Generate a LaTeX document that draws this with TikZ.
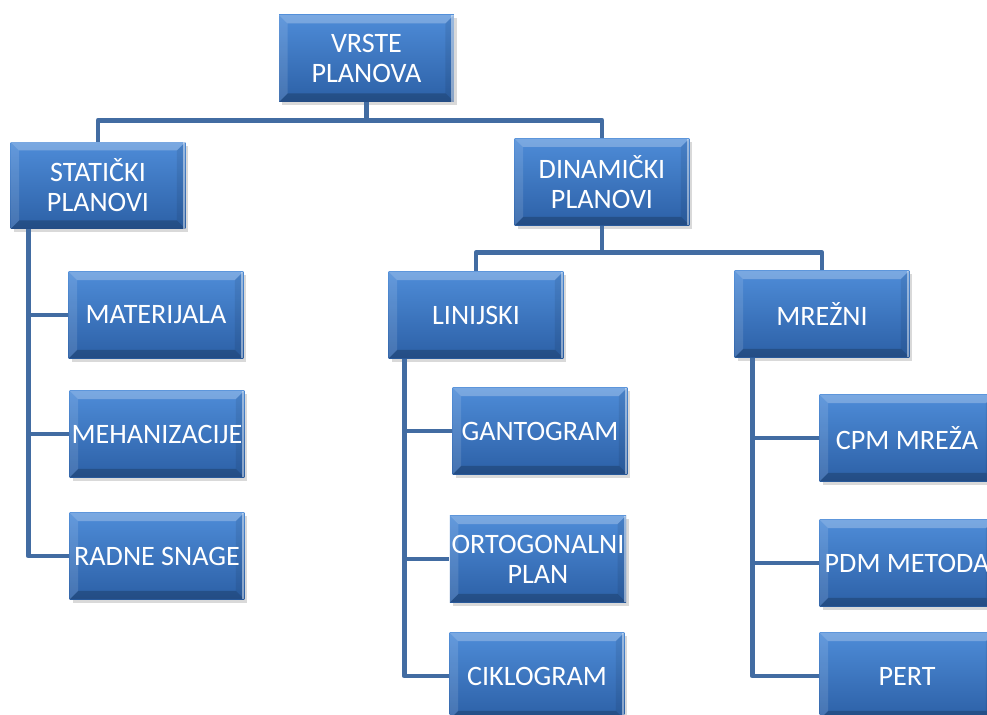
\documentclass[tikz,border=0pt]{standalone}
\usepackage{fontspec}
\setmainfont{Carlito}
\usetikzlibrary{shadows}
\definecolor{plavasv}{RGB}{78,140,216}
\definecolor{plavatm}{RGB}{44,96,166}
\definecolor{linija}{RGB}{66,108,162}
\begin{document}
\begin{tikzpicture}[x=0.02cm,y=-0.02cm]
% okvir slike
\useasboundingbox (0,0) rectangle (987,715);
\clip (0,0) rectangle (987,715);
% stilovi
\tikzstyle{veza} = [line width=2.8pt,color=linija,line join=round]
\tikzstyle{kutija} = [rectangle,minimum width=3.5cm,minimum height=1.74cm,
  inner sep=1pt,align=center,text=white,font=\fontsize{16}{17}\selectfont,
  top color=plavasv,bottom color=plavatm,
  drop shadow={shadow xshift=0.06cm,shadow yshift=-0.07cm,opacity=0.3},
  path picture={
  \path (path picture bounding box.north west) coordinate (kA)
        (path picture bounding box.north east) coordinate (kB)
        (path picture bounding box.south east) coordinate (kC)
        (path picture bounding box.south west) coordinate (kD);
  \fill[white,opacity=0.25] (kA) -- (kB) -- ([shift={(-0.17cm,-0.17cm)}]kB)
     -- ([shift={(0.17cm,-0.17cm)}]kA) -- cycle;
  \fill[white,opacity=0.12] (kA) -- ([shift={(0.17cm,-0.17cm)}]kA)
     -- ([shift={(0.17cm,0.17cm)}]kD) -- (kD) -- cycle;
  \fill[black,opacity=0.2] (kD) -- ([shift={(0.17cm,0.17cm)}]kD)
     -- ([shift={(-0.17cm,0.17cm)}]kC) -- (kC) -- cycle;
  \fill[black,opacity=0.08] (kB) -- (kC) -- ([shift={(-0.17cm,0.17cm)}]kC)
     -- ([shift={(-0.17cm,-0.17cm)}]kB) -- cycle;
  \fill[white,opacity=0.45] ([xshift=-0.05cm]kB) rectangle (kC);
  }]
% prvi nivo
\node[kutija] (vrste) at (366.5,58.5) {VRSTE\\PLANOVA};
\node[kutija] (staticki) at (98,185.5) {STATIČKI\\PLANOVI};
\node[kutija] (dinamicki) at (602,182) {DINAMIČKI\\PLANOVI};
% staticki planovi
\node[kutija] (materijala) at (156,315) {MATERIJALA};
\node[kutija] (mehanizacije) at (157,434) {MEHANIZACIJE};
\node[kutija] (radne) at (157,556) {RADNE SNAGE};
% dinamicki planovi
\node[kutija] (linijski) at (476,315) {LINIJSKI};
\node[kutija] (mrezni) at (822,314) {MREŽNI};
\node[kutija] (gantogram) at (540,431) {GANTOGRAM};
\node[kutija] (ortogonalni) at (538,559) {ORTOGONALNI\\PLAN};
\node[kutija] (ciklogram) at (537,676) {CIKLOGRAM};
\node[kutija] (cpm) at (907,438) {CPM MREŽA};
\node[kutija] (pdm) at (907,563) {PDM METODA};
\node[kutija] (pert) at (907,676) {PERT};
% veze
\draw[veza] (vrste.south) -- ++(0,18) -| (staticki.north);
\draw[veza] (vrste.south) -- ++(0,18) -| (dinamicki.north);
\draw[veza] (dinamicki.south) -- ++(0,27) -| (linijski.north);
\draw[veza] (dinamicki.south) -- ++(0,27) -| (mrezni.north);
\foreach \k in {materijala,mehanizacije,radne}
  \draw[veza] ([xshift=0.36cm]staticki.south west) |- (\k.west);
\foreach \k in {gantogram,ortogonalni,ciklogram}
  \draw[veza] ([xshift=0.32cm]linijski.south west) |- (\k.west);
\foreach \k in {cpm,pdm,pert}
  \draw[veza] ([xshift=0.36cm]mrezni.south west) |- (\k.west);
\end{tikzpicture}
\end{document}
